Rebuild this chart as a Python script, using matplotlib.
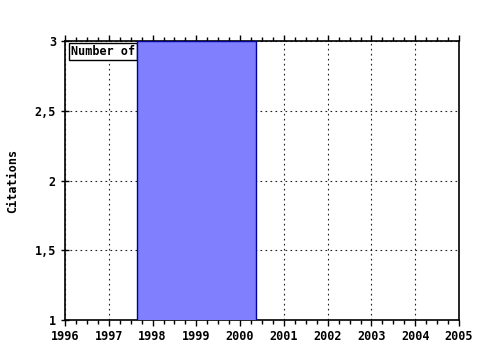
import matplotlib
matplotlib.use("Agg")
import matplotlib.pyplot as plt
from matplotlib.ticker import MultipleLocator

years = [1999]
citations = [3]
bar_width = 2.72
x_ticks = [1996, 1997, 1998, 1999, 2000, 2001, 2002, 2003, 2004, 2005]
y_ticks = [1, 1.5, 2, 2.5, 3]
y_labels = ["1", "1,5", "2", "2,5", "3"]

plt.rcParams["font.family"] = "DejaVu Sans Mono"
plt.rcParams["font.weight"] = "bold"

fig = plt.figure(figsize=(4.8, 3.5), dpi=100)
ax = fig.add_axes([65 / 480, 30 / 350, 394 / 480, 279 / 350])

ax.bar(years, citations, width=bar_width, color="#8080ff", edgecolor="#0000a0",
       linewidth=1, zorder=3)

ax.set_xlim(1996, 2005)
ax.set_ylim(1, 3)
ax.set_xticks(x_ticks)
ax.set_xticklabels([str(y) for y in x_ticks], fontsize=8.5, fontweight="bold")
ax.set_yticks(y_ticks)
ax.set_yticklabels(y_labels, fontsize=8.5, fontweight="bold")
ax.xaxis.set_minor_locator(MultipleLocator(0.25))
ax.tick_params(axis="x", which="both", direction="out", top=True, length=3, width=1)
ax.tick_params(axis="x", which="major", length=4)
ax.tick_params(axis="y", which="major", direction="inout", length=6, width=1)
ax.grid(True, which="major", color="#222222", linestyle=(0, (1.5, 3)), linewidth=0.8, zorder=1)
for s in ax.spines.values():
    s.set_linewidth(1.2)

ax.set_ylabel("Citations", fontsize=8.5, fontweight="bold", labelpad=11)

ax.text(0.015, 0.985, "Number of", transform=ax.transAxes, fontsize=8.5,
        fontweight="bold", ha="left", va="top", zorder=2,
        bbox=dict(boxstyle="square,pad=0.15", facecolor="white", edgecolor="black", linewidth=1))

fig.savefig("out.png", dpi=100)
